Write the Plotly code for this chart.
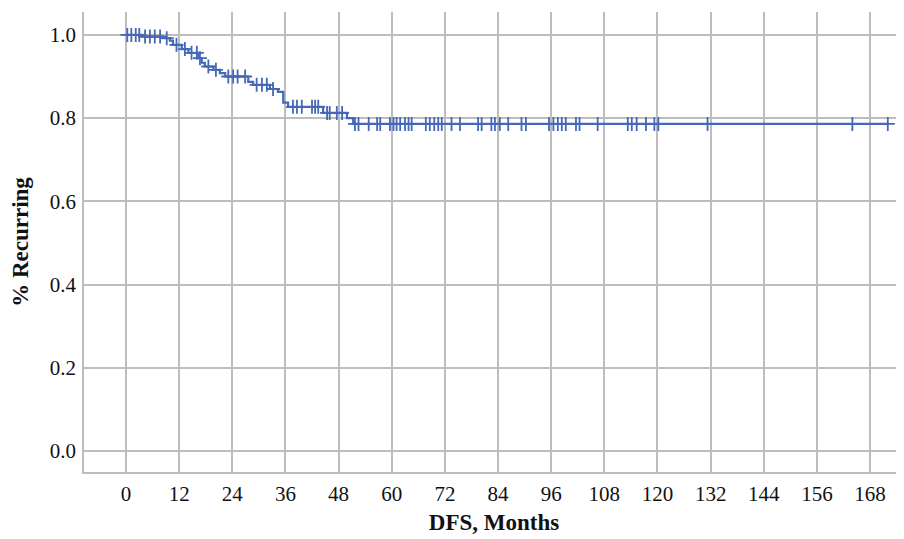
import numpy as np
import plotly.graph_objects as go

# Kaplan-Meier step data
step_times = [0, 3.5, 8.4, 9.9, 10.6, 12.6, 14.1, 16.3, 17.1, 17.8, 19.7, 21.2,
              22.4, 27.6, 28.7, 32.5, 34.3, 35.5, 36.6, 44.5, 49.9, 51.3]
step_surv = [1.0, 0.996, 0.992, 0.986, 0.976, 0.966, 0.957, 0.944, 0.933, 0.924,
             0.916, 0.908, 0.900, 0.887, 0.880, 0.870, 0.863, 0.837, 0.827,
             0.8125, 0.800, 0.786]

censor_times = [0.3, 1.2, 2.2, 3.0, 4.3, 5.4, 6.5, 7.7, 9.2, 11.4, 13.3, 14.8,
                16.0, 16.7, 18.6, 20.3, 23.1, 24.2, 25.2, 26.9, 29.5, 30.7, 31.8,
                33.2, 37.7, 38.6, 39.7, 42.0, 42.7, 43.4, 45.4, 46.0, 47.6, 48.8,
                51.7, 52.5, 54.8, 56.7, 57.4, 59.6, 60.4, 61.1, 61.9, 63.0, 63.8,
                64.5, 67.7, 68.6, 69.6, 70.5, 71.3, 73.5, 75.4, 79.5, 80.3, 82.5,
                83.3, 84.4, 86.3, 89.3, 90.3, 95.5, 96.5, 97.5, 98.4, 99.3, 101.6,
                102.4, 106.5, 113.3, 114.2, 115.3, 117.4, 119.3, 120.2, 131.3,
                164.0, 172.0]

x_ticks = list(range(0, 169, 12))
y_ticks = [0.0, 0.2, 0.4, 0.6, 0.8, 1.0]
y_tick_labels = ["0.0", "0.2", "0.4", "0.6", "0.8", "1.0"]

color = "#4468b7"

# survival value at each censor time from the step function
st = np.array(step_times)
ss = np.array(step_surv)
censor_surv = [ss[np.searchsorted(st, t, side="right") - 1] for t in censor_times]

line_x = step_times + [censor_times[-1]]
line_y = step_surv + [step_surv[-1]]

fig = go.Figure()
fig.add_trace(go.Scatter(x=line_x, y=line_y, mode="lines", line_shape="hv",
                         line=dict(color=color, width=2.2), hoverinfo="skip",
                         showlegend=False))
fig.add_trace(go.Scatter(x=censor_times, y=censor_surv, mode="markers",
                         marker=dict(symbol="cross-thin", size=10,
                                     line=dict(color=color, width=1.8)),
                         showlegend=False))

font_family = "Liberation Serif, Times New Roman, serif"
grid = "#bdbdbd"
fig.update_layout(
    width=896, height=531,
    margin=dict(l=76, r=0, t=4, b=67),
    paper_bgcolor="white", plot_bgcolor="white",
    font=dict(family=font_family, size=21, color="#111111"),
    xaxis=dict(range=[-9.48, 175.66], tickvals=x_ticks, showgrid=True,
               gridcolor=grid, gridwidth=1.5, showline=True, linecolor=grid,
               linewidth=1.5, zeroline=False, ticks="", ticklabelstandoff=2,
               tickfont=dict(family=font_family, size=21),
               title=dict(text="<b>DFS, Months</b>", standoff=9,
                          font=dict(family=font_family, size=23))),
    yaxis=dict(range=[-0.0505, 1.055], tickvals=y_ticks, ticktext=y_tick_labels,
               showgrid=True, gridcolor=grid, gridwidth=1.5, showline=True,
               linecolor=grid, linewidth=1.5, zeroline=False, ticks="",
               ticklabelstandoff=2,
               tickfont=dict(family=font_family, size=21),
               title=dict(text="<b>% Recurring</b>", standoff=19,
                          font=dict(family=font_family, size=23))),
)

fig.write_html("out.html")
